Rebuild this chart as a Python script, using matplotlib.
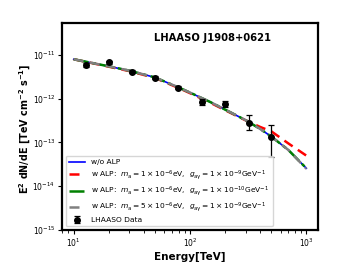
import matplotlib
matplotlib.use("Agg")
import matplotlib.pyplot as plt
import numpy as np

# Model curves
curve_E = [10, 15, 20, 30, 50, 80, 100, 150, 200, 300, 400, 500, 700, 1000]
flux_noalp = [7.9e-12, 6.36e-12, 5.46e-12, 4.35e-12, 3.04e-12, 1.79e-12, 1.37e-12, 8.3e-13, 5.62e-13, 3.23e-13, 2.04e-13, 1.36e-13, 6.74e-14, 2.57e-14]
flux_alp1 = [7.9e-12, 6.3e-12, 5.35e-12, 4.25e-12, 2.96e-12, 1.74e-12, 1.33e-12, 8.0e-13, 5.45e-13, 3.2e-13, 2.26e-13, 1.79e-13, 9.5e-14, 5.0e-14]
flux_alp2 = [7.9e-12, 6.36e-12, 5.46e-12, 4.35e-12, 3.04e-12, 1.79e-12, 1.37e-12, 8.3e-13, 5.62e-13, 3.23e-13, 2.04e-13, 1.36e-13, 6.74e-14, 2.57e-14]
flux_alp3 = [7.9e-12, 6.36e-12, 5.46e-12, 4.35e-12, 3.04e-12, 1.79e-12, 1.37e-12, 8.3e-13, 5.62e-13, 3.23e-13, 2.04e-13, 1.36e-13, 6.74e-14, 2.5e-14]

# LHAASO data
data_E = [12.7, 20, 31.7, 50, 79.5, 126, 200, 320, 500]
data_F = [5.9e-12, 6.67e-12, 4.08e-12, 3.03e-12, 1.79e-12, 8.5e-13, 7.6e-13, 2.84e-13, 1.36e-13]
data_up = [6.6e-12, 7.3e-12, 4.4e-12, 3.25e-12, 1.95e-12, 1.0e-12, 9.0e-13, 4.25e-13, 2.51e-13]
data_lo = [5.3e-12, 6.1e-12, 3.8e-12, 2.85e-12, 1.65e-12, 7.2e-13, 6.4e-13, 1.93e-13, 4.73e-14]

# Tick values
xticks = [10, 100, 1000]
yticks = [1e-15, 1e-14, 1e-13, 1e-12, 1e-11]

fig = plt.figure(figsize=(3.49, 2.62), dpi=100)
ax = fig.add_axes([0.178, 0.122, 0.733, 0.79])

ax.plot(curve_E, flux_noalp, color='blue', lw=1.2, label='w/o ALP')
ax.plot(curve_E, flux_alp1, color='red', lw=1.8, ls=(0, (4, 2.5)),
        label=r'w ALP:  $m_{\rm a} = 1 \times 10^{-6}$eV,  $g_{\rm a\gamma} = 1 \times 10^{-9}$GeV$^{-1}$')
ax.plot(curve_E, flux_alp2, color='green', lw=1.8, ls=(0, (6, 1.5, 1.5, 1.5)),
        label=r'w ALP:  $m_{\rm a} = 1 \times 10^{-6}$eV,  $g_{\rm a\gamma} = 1 \times 10^{-10}$GeV$^{-1}$')
ax.plot(curve_E, flux_alp3, color='grey', lw=1.8, ls=(0, (4, 2.5)),
        label=r'w ALP:  $m_{\rm a} = 5 \times 10^{-6}$eV,  $g_{\rm a\gamma} = 1 \times 10^{-9}$GeV$^{-1}$')

yerr = [np.array(data_F) - np.array(data_lo), np.array(data_up) - np.array(data_F)]
ax.errorbar(data_E, data_F, yerr=yerr, fmt='o', color='black', ms=4,
            capsize=2, elinewidth=0.9, capthick=0.9, label='LHAASO Data', zorder=5)

ax.set_xscale('log')
ax.set_yscale('log')
ax.set_xticks(xticks)
ax.set_yticks(yticks)
ax.yaxis.set_minor_locator(matplotlib.ticker.NullLocator())
ax.set_xlim(10**0.9, 10**3.1)
ax.set_ylim(1e-15, 5.3e-11)

ax.set_xlabel('Energy[TeV]', fontsize=7.5, fontweight='bold', labelpad=2)
ax.set_ylabel(r'$\mathbf{E^2}$ dN/dE [TeV cm$\mathbf{^{-2}}$ s$\mathbf{^{-1}}$]', fontsize=6.9, fontweight='bold')
ax.yaxis.set_label_coords(-0.113, 0.49)
ax.tick_params(labelsize=5.5, width=0.8, length=3, pad=2)
ax.tick_params(which='minor', width=0.6, length=1.8)
for s in ax.spines.values():
    s.set_linewidth(1.6)

ax.text(0.59, 0.927, 'LHAASO J1908+0621', transform=ax.transAxes, ha='center', va='center',
        fontsize=7.2, fontweight='bold')

ax.legend(loc='lower left', fontsize=5.4, frameon=True, handlelength=2.2, labelspacing=0.35,
          borderpad=0.4, bbox_to_anchor=(0.0, 0.0))

fig.savefig('out.png', dpi=100)
